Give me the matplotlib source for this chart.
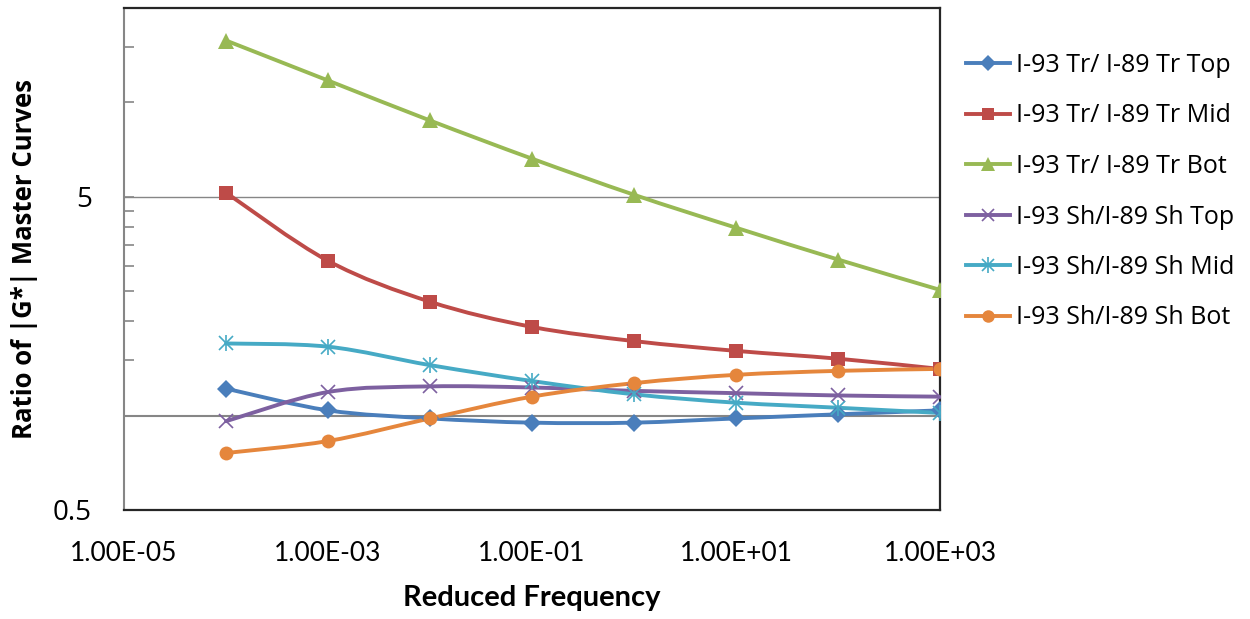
import numpy as np
import matplotlib
matplotlib.use("Agg")
import matplotlib.pyplot as plt
from matplotlib.path import Path
from matplotlib.patches import PathPatch
from matplotlib.lines import Line2D
from matplotlib.legend_handler import HandlerTuple
from matplotlib.ticker import FixedLocator, NullFormatter, FixedFormatter

plt.rcParams['font.family'] = ['Open Sans', 'DejaVu Sans']

freq = [1e-4, 1e-3, 1e-2, 1e-1, 1e0, 1e1, 1e2, 1e3]

tr_top = [1.22, 1.04, 0.98, 0.95, 0.95, 0.98, 1.01, 1.04]
tr_mid = [5.15, 3.12, 2.31, 1.92, 1.73, 1.61, 1.52, 1.41]
tr_bot = [15.75, 11.74, 8.75, 6.61, 5.07, 3.98, 3.15, 2.52]
sh_top = [0.96, 1.19, 1.24, 1.23, 1.20, 1.18, 1.16, 1.15]
sh_mid = [1.70, 1.66, 1.45, 1.29, 1.17, 1.10, 1.06, 1.02]
sh_bot = [0.76, 0.83, 0.98, 1.15, 1.27, 1.35, 1.39, 1.41]

names = ['I-93 Tr/ I-89 Tr Top', 'I-93 Tr/ I-89 Tr Mid', 'I-93 Tr/ I-89 Tr Bot',
         'I-93 Sh/I-89 Sh Top', 'I-93 Sh/I-89 Sh Mid', 'I-93 Sh/I-89 Sh Bot']
colors = ['#4A7EBB', '#BE4B48', '#98B954', '#7D60A0', '#46AAC5', '#E5863C']
series = [tr_top, tr_mid, tr_bot, sh_top, sh_mid, sh_bot]

xticks = [1e-5, 1e-3, 1e-1, 1e1, 1e3]
xlabels = ['1.00E-05', '1.00E-03', '1.00E-01', '1.00E+01', '1.00E+03']


def smooth_path(x, y):
    # bezier through the points in log-log space (excel style smoothing)
    pts = np.column_stack([np.log10(x), np.log10(y)])
    n = len(pts)
    verts = [pts[0]]
    codes = [Path.MOVETO]
    for i in range(n - 1):
        p0 = pts[i - 1] if i > 0 else pts[i]
        p3 = pts[i + 2] if i + 2 < n else pts[i + 1]
        c1 = pts[i] + (pts[i + 1] - p0) / 6.0
        c2 = pts[i + 1] - (p3 - pts[i]) / 6.0
        verts += [c1, c2, pts[i + 1]]
        codes += [Path.CURVE4] * 3
    return Path(10 ** np.array(verts), codes)


fig = plt.figure(figsize=(12.5, 6.19), dpi=100)
ax = fig.add_axes([124 / 1250, 1 - 510 / 619, (940 - 124) / 1250, (510 - 8) / 619])
ax.set_xscale('log')
ax.set_yscale('log')
ax.set_xlim(1e-5, 1e3)
ax.set_ylim(0.5, 20)

# horizontal axis crosses at 1, gridline at 5
ax.axhline(1.0, color='#868686', lw=1.5, zorder=1)
ax.axhline(5.0, color='#868686', lw=1.0, zorder=1)

lw = 2.8
handles = []
for k, (ys, c) in enumerate(zip(series, colors)):
    ax.add_patch(PathPatch(smooth_path(freq, ys), facecolor='none', edgecolor=c,
                           lw=lw, zorder=3, capstyle='round'))
    if k == 0:
        ax.plot(freq, ys, 'D', color=c, ms=9, mew=0, zorder=4)
        h = Line2D([], [], color=c, lw=lw, marker='D', ms=8, mew=0)
    elif k == 1:
        ax.plot(freq, ys, 's', color=c, ms=9.5, mew=0, zorder=4)
        h = Line2D([], [], color=c, lw=lw, marker='s', ms=8.5, mew=0)
    elif k == 2:
        ax.plot(freq, ys, '^', color=c, ms=11, mew=0, zorder=4)
        h = Line2D([], [], color=c, lw=lw, marker='^', ms=10, mew=0)
    elif k == 3:
        ax.plot(freq, ys, 'x', color=c, ms=10, mew=1.2, zorder=4)
        h = Line2D([], [], color=c, lw=lw, marker='x', ms=9, mew=1.2)
    elif k == 4:
        ax.plot(freq, ys, 'x', color=c, ms=10, mew=1.2, zorder=4)
        ax.plot(freq, ys, '|', color=c, ms=12, mew=1.2, zorder=4)
        h = (Line2D([], [], color=c, lw=lw, marker='x', ms=9, mew=1.2),
             Line2D([], [], color=c, lw=0, marker='|', ms=11, mew=1.2))
    else:
        ax.plot(freq, ys, 'o', color=c, ms=10, mew=0, zorder=4)
        h = Line2D([], [], color=c, lw=lw, marker='o', ms=9, mew=0)
    handles.append(h)

# plot area border
for side in ['top', 'right', 'bottom']:
    ax.spines[side].set_color('#262626')
    ax.spines[side].set_linewidth(1.6)
ax.spines['left'].set_color('#868686')
ax.spines['left'].set_linewidth(1.5)

ax.xaxis.set_major_locator(FixedLocator(xticks))
ax.xaxis.set_major_formatter(FixedFormatter(xlabels))
ax.xaxis.set_minor_locator(FixedLocator([]))
ax.tick_params(axis='x', which='both', length=0, pad=22)
for t in ax.get_xticklabels():
    t.set_family(['Lato', 'DejaVu Sans'])
    t.set_fontsize(19)

ax.yaxis.set_major_locator(FixedLocator([0.5, 5]))
ax.yaxis.set_major_formatter(FixedFormatter(['0.5', '5']))
ax.yaxis.set_minor_locator(FixedLocator([1, 1.5, 2, 2.5, 3, 3.5, 4, 4.5, 10, 15]))
ax.yaxis.set_minor_formatter(NullFormatter())
ax.tick_params(axis='y', which='both', direction='in', length=7, width=1.2,
               color='#868686', labelsize=20, pad=23)

ax.set_xlabel('Reduced Frequency', fontsize=21, fontweight='bold', labelpad=14,
              family=['Lato', 'DejaVu Sans'])
ax.set_ylabel('Ratio of |G*| Master Curves', fontsize=18.5, fontweight='bold')
ax.yaxis.set_label_coords(-86 / 816, 0.5)

fig.legend(handles, names, loc='upper left', bbox_to_anchor=(966 / 1250, 1 - 53 / 619),
           frameon=False, fontsize=18, handlelength=1.75, handletextpad=0.25,
           labelspacing=1.02, borderaxespad=0, borderpad=0,
           handler_map={tuple: HandlerTuple(ndivide=1, pad=0)})

fig.savefig('out.png', dpi=100)
